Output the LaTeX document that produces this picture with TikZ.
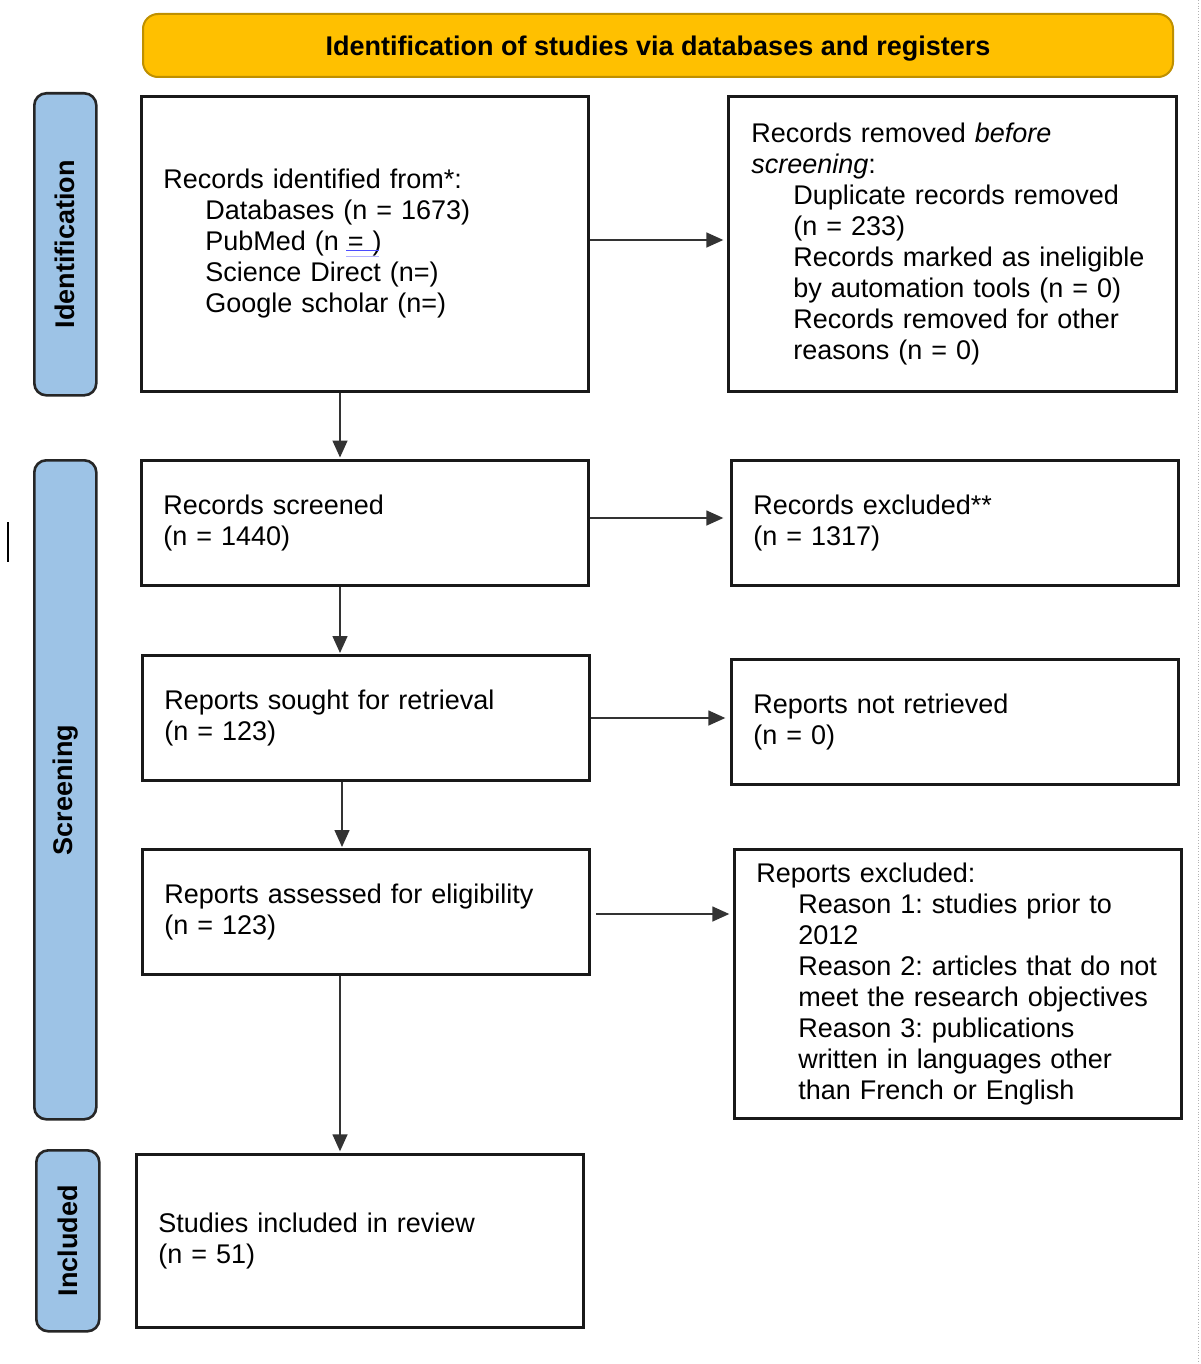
\documentclass[tikz,border=0pt]{standalone}
\usepackage{fontspec}
\setmainfont{Liberation Sans}
\usetikzlibrary{arrows.meta}
\definecolor{gold}{HTML}{FFC000}
\definecolor{goldedge}{HTML}{BF9000}
\definecolor{sideblue}{HTML}{9DC3E6}
\newcommand{\ind}{\hspace*{42pt}}
\begin{document}
\frenchspacing
\begin{tikzpicture}[x=1pt,y=-1pt,
  box/.style={draw=black!90, line width=2.6pt, fill=white, anchor=north west, align=left,
    inner xsep=22pt, inner ysep=0pt, font=\fontsize{27}{31}\selectfont},
  side/.style={draw=black!85, line width=2.6pt, fill=sideblue, rounded corners=12pt,
    anchor=north west, inner sep=0pt},
  sidelabel/.style={rotate=90, font=\bfseries\fontsize{27}{31}\selectfont},
  arr/.style={-{Triangle[length=17pt,width=15pt]}, line width=1.5pt, draw=black!80}]
\useasboundingbox (0,0) rectangle (1200,1364);
\fill[white] (0,0) rectangle (1200,1364);

% banner
\node[draw=goldedge, line width=2pt, fill=gold, rounded corners=15pt, anchor=north west,
  minimum width=1030pt, minimum height=63pt, inner sep=0pt] (banner) at (142,13) {};
\node[font=\bfseries\fontsize{27}{31}\selectfont] (bannert) at ([yshift=-3pt]banner.center)
  {Identification of studies via databases and registers};

% side bars
\node[side, minimum width=62pt, minimum height=302pt] (s1) at (33,92) {};
\node[sidelabel] (s1t) at (s1.center) {Identification};
\node[side, minimum width=62pt, minimum height=659pt] (s2) at (33,459) {};
\node[sidelabel] (s2t) at (s2.center) {Screening};
\node[side, minimum width=63pt, minimum height=181pt] (s3) at (35,1149) {};
\node[sidelabel] (s3t) at (s3.center) {Included};

% boxes
\node[box, minimum width=447pt, minimum height=295pt, text width=403pt] (b1) at (140,95)
 {Records identified from*:\\
  \ind Databases (n = 1673)\\
  \ind PubMed (n = )\\
  \ind Science Direct (n=)\\
  \ind Google scholar (n=)};
\node[box, inner xsep=23pt, minimum width=448pt, minimum height=295pt, text width=402pt] (b2) at (727,95)
 {Records removed \textit{before}\\
  \textit{screening}:\\
  \ind Duplicate records removed\\
  \ind (n = 233)\\
  \ind Records marked as ineligible\\
  \ind by automation tools (n = 0)\\
  \ind Records removed for other\\
  \ind reasons (n = 0)};
\node[box, minimum width=447pt, minimum height=125pt, text width=403pt] (b3) at (140,459)
 {Records screened\\(n = 1440)};
\node[box, minimum width=447pt, minimum height=125pt, text width=403pt] (b4) at (730,459)
 {Records excluded**\\(n = 1317)};
\node[box, minimum width=447pt, minimum height=125pt, text width=403pt] (b5) at (141,654)
 {Reports sought for retrieval\\(n = 123)};
\node[box, minimum width=447pt, minimum height=125pt, text width=403pt] (b6) at (730,658)
 {Reports not retrieved\\(n = 0)};
\node[box, minimum width=447pt, minimum height=125pt, text width=403pt] (b7) at (141,848)
 {Reports assessed for eligibility\\(n = 123)};
\node[box, minimum width=447pt, minimum height=269pt, text width=403pt] (b8) at (733,848)
 {Reports excluded:\\
  \ind Reason 1: studies prior to\\
  \ind 2012\\
  \ind \mbox{Reason 2: articles that do not}\\
  \ind meet the research objectives\\
  \ind Reason 3: publications\\
  \ind written in languages other\\
  \ind than French or English};
\node[box, minimum width=447pt, minimum height=173pt, text width=403pt] (b9) at (135,1153)
 {Studies included in review\\(n = 51)};

% connectors
\draw[arr, shorten >=3.7pt] (b1.east |- 0,240) -- (b2.west |- 0,240);
\draw[arr, shorten >=1.5pt] (b1.south -| 340,0) -- (b3.north -| 340,0);
\draw[arr, shorten >=6.7pt] (b3.east |- 0,518) -- (b4.west |- 0,518);
\draw[arr, shorten >=1pt] (b3.south -| 340,0) -- (b5.north -| 340,0);
\draw[arr, shorten >=4.7pt] (b5.east |- 0,718) -- (b6.west |- 0,718);
\draw[arr, shorten >=1pt] (b5.south -| 342,0) -- (b7.north -| 342,0);
\draw[arr, shorten <=5.7pt, shorten >=3.7pt] (b7.east |- 0,914) -- (b8.west |- 0,914);
\draw[arr, shorten >=1.7pt] (b7.south -| 340,0) -- (b9.north -| 340,0);

% artifacts
\draw[blue!70, line width=1pt] (346,251) -- (379,251);
\draw[blue!30, line width=1pt] (346,256) -- (379,256);
\draw[black, line width=1.5pt] (8,522) -- (8,562);
\draw[gray!60, line width=0.8pt, dotted] (1198,0) -- (1198,1364);
\end{tikzpicture}
\end{document}
